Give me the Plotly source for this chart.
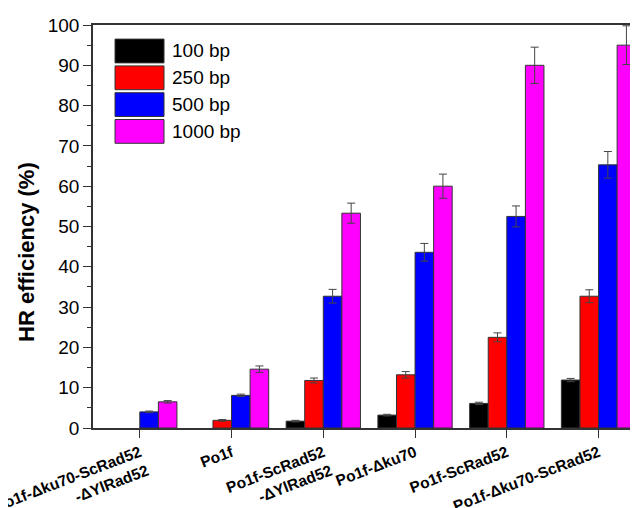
import plotly.graph_objects as go

categories = ["Po1f-Δku70-ScRad52<br>-ΔYlRad52", "Po1f", "Po1f-ScRad52<br>-ΔYlRad52",
              "Po1f-Δku70", "Po1f-ScRad52", "Po1f-Δku70-ScRad52"]
series_names = ["100 bp", "250 bp", "500 bp", "1000 bp"]
colors = ["#000000", "#ff0000", "#0000ff", "#ff00ff"]

bp100 = [None, None, 1.7, 3.2, 6.1, 11.9]
bp100_err = [0, 0, 0.2, 0.2, 0.3, 0.4]
bp250 = [None, 1.9, 11.8, 13.2, 22.5, 32.7]
bp250_err = [0, 0.2, 0.6, 0.8, 1.1, 1.6]
bp500 = [4.0, 8.1, 32.7, 43.6, 52.5, 65.3]
bp500_err = [0.2, 0.3, 1.7, 2.2, 2.6, 3.3]
bp1000 = [6.5, 14.6, 53.3, 60.0, 90.0, 95.0]
bp1000_err = [0.3, 0.8, 2.5, 3.0, 4.5, 4.8]

values = [bp100, bp250, bp500, bp1000]
errors = [bp100_err, bp250_err, bp500_err, bp1000_err]

y_ticks = [0, 10, 20, 30, 40, 50, 60, 70, 80, 90, 100]
y_title = "HR efficiency (%)"

FONT = "Liberation Sans, Arial"

fig = go.Figure()
for name, col, v, e in zip(series_names, colors, values, errors):
    fig.add_trace(go.Bar(
        x=categories, y=v, name=name, showlegend=False,
        marker=dict(color=col, line=dict(color="#333333", width=1)),
        error_y=dict(type="data", array=e, visible=True, color="#444444",
                     thickness=1, width=4),
    ))

# legend drawn as large swatches (paper coordinates)
sw_x0, sw_x1, txt_x = 0.0404, 0.1303, 0.141
row_top, row_h, row_step = 0.965, 0.059, 0.0665
for i, (name, col) in enumerate(zip(series_names, colors)):
    top = row_top - i * row_step
    fig.add_shape(type="rect", xref="paper", yref="paper",
                  x0=sw_x0, x1=sw_x1, y0=top - row_h, y1=top,
                  fillcolor=col, line=dict(color="#333333", width=1))
    fig.add_annotation(xref="paper", yref="paper", x=txt_x, y=top - row_h / 2,
                       text=name, showarrow=False, xanchor="left", yanchor="middle",
                       font=dict(family=FONT, size=19, color="#000"))

# y-axis title
fig.add_annotation(xref="paper", yref="paper", x=-0.121, y=0.437, text=y_title,
                   textangle=-90, showarrow=False, xanchor="center", yanchor="middle",
                   font=dict(family=FONT, size=22, color="#000", weight="bold"))

# the page body adds an 8px offset, so the figure is 8px smaller
fig.update_layout(
    width=630, height=500,
    margin=dict(l=85, r=0, t=17, b=80),
    paper_bgcolor="white", plot_bgcolor="white",
    barmode="group", bargap=0.19, bargroupgap=0,
    font=dict(family=FONT, color="#000"),
    showlegend=False,
)
fig.update_xaxes(
    range=[-0.51, 5.43], showline=True, linecolor="#333333", linewidth=1.5,
    mirror=True, ticks="outside", ticklen=8, tickcolor="#333333", automargin=False,
    tickangle=-21, tickfont=dict(size=15.5, family=FONT, weight="bold"),
    showgrid=False,
)
fig.update_yaxes(
    range=[0, 100], tickvals=y_ticks, showline=True, linecolor="#333333", linewidth=1.5,
    ticks="outside", ticklen=8, tickcolor="#333333", automargin=False,
    minor=dict(ticks="outside", ticklen=4, dtick=5, tickcolor="#333333", showgrid=False),
    tickfont=dict(size=19, family=FONT),
    showgrid=False, zeroline=False,
)

fig.write_html("out.html")
